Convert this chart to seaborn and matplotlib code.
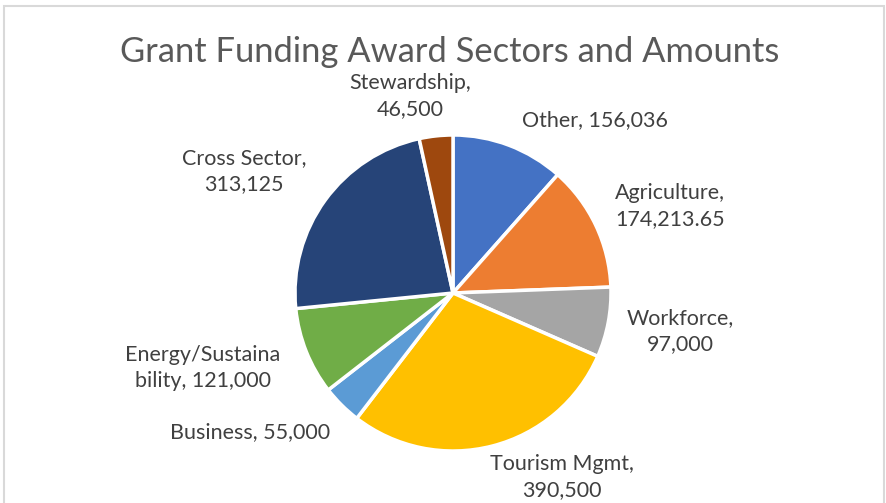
import matplotlib
matplotlib.use("Agg")
import matplotlib.pyplot as plt
import seaborn as sns
from matplotlib.patches import Rectangle

# -------------------------------------------------
# Data (clockwise from 12 o'clock)
# -------------------------------------------------
sectors = [
    "Other",
    "Agriculture",
    "Workforce",
    "Tourism Mgmt",
    "Business",
    "Energy/Sustainability",
    "Cross Sector",
    "Stewardship",
]
amounts = [156036, 174213.65, 97000, 390500, 55000, 121000, 313125, 46500]
amount_labels = ["156,036", "174,213.65", "97,000", "390,500",
                 "55,000", "121,000", "313,125", "46,500"]

# Excel office palette
office_colors = ["#4472C4", "#ED7D31", "#A5A5A5", "#FFC000",
                 "#5B9BD5", "#70AD47", "#264478", "#9E480E"]

# -------------------------------------------------
# Style
# -------------------------------------------------
sns.set_theme(style="white")
plt.rcParams["font.family"] = ["Lato", "DejaVu Sans"]

W, H = 887, 503
fig = plt.figure(figsize=(W / 100, H / 100), dpi=100)
ax = fig.add_axes([0, 0, 1, 1])
ax.set_xlim(0, W)
ax.set_ylim(0, H)
ax.axis("off")

# chart frame
ax.add_patch(Rectangle((4, -10), 880, H - 6 + 10, fill=False,
                       edgecolor="#D9D9D9", linewidth=1.5))

palette = sns.color_palette(office_colors)
ax.pie(
    amounts,
    colors=palette,
    startangle=90,
    counterclock=False,
    center=(453, H - 293),
    radius=158,
    wedgeprops=dict(edgecolor="white", linewidth=2.5),
)
ax.set_xlim(0, W)
ax.set_ylim(0, H)
ax.set_aspect("auto")

ax.text(450, H - 52, "Grant Funding Award Sectors and Amounts",
        ha="center", va="center", fontsize=24.8, color="#595959")

# label layout: (x, y, wrap)
label_pos = [
    (595, 120, False),
    (670, 206, True),
    (680, 331, True),
    (562, 477, True),
    (250, 432, False),
    (203, 368, "energy"),
    (244, 171, True),
    (410, 96, True),
]

for name, amt, (x, y, wrap) in zip(sectors, amount_labels, label_pos):
    if wrap == "energy":
        txt = "Energy/Sustaina\nbility, " + amt
    elif wrap:
        txt = f"{name},\n{amt}"
    else:
        txt = f"{name}, {amt}"
    ax.text(x, H - y, txt, ha="center", va="center", fontsize=15.5,
            color="#404040", linespacing=1.4)

fig.savefig("out.png", dpi=100)
